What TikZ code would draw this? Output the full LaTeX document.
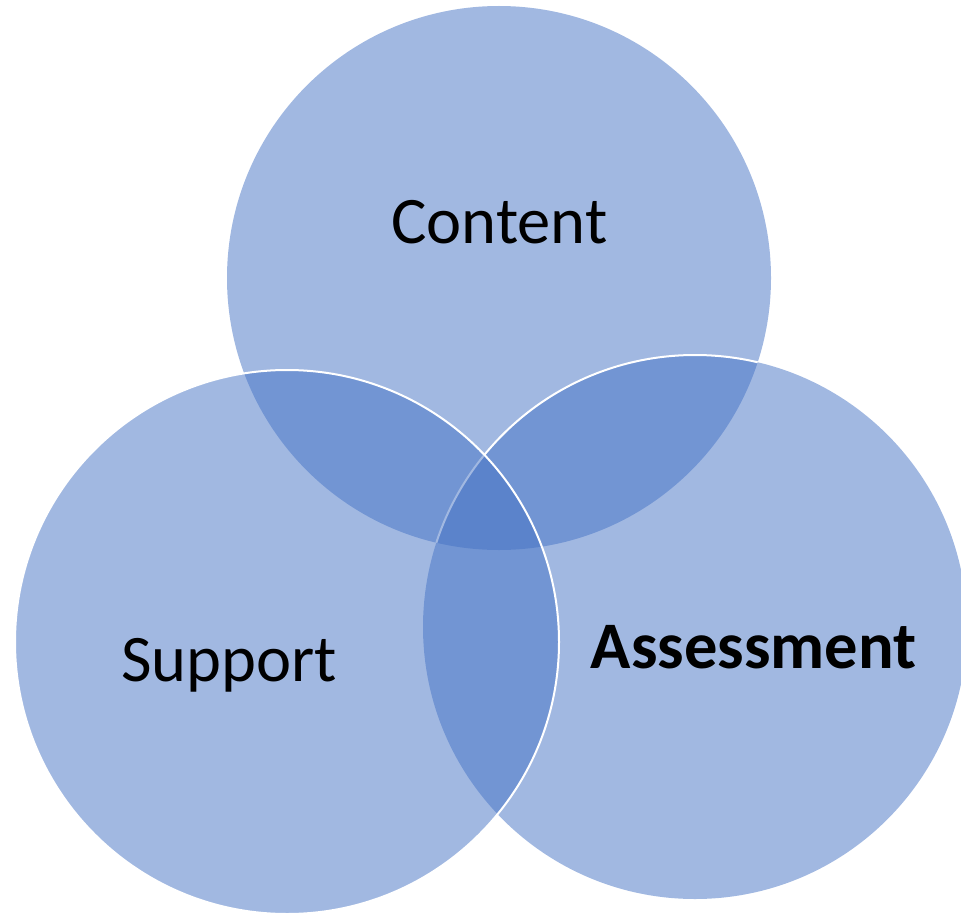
\documentclass[tikz,border=0pt]{standalone}
\usepackage{fontspec}
\setmainfont{Carlito}
\definecolor{venn}{HTML}{4472C4}
\tikzset{
  disc/.style={fill=venn, fill opacity=0.5, draw=none},
  rim/.style={draw=white, line width=2pt},
  lbl/.style={font=\fontsize{66.5}{80}\selectfont, text=black, inner sep=0pt, anchor=base}
}
\begin{document}
\begin{tikzpicture}[x=1pt,y=-1pt]
\useasboundingbox (0,0) rectangle (961,915);
\coordinate (cC) at (499,278);
\coordinate (cS) at (287,642);
\coordinate (cA) at (695,627);
\path[disc] (cC) circle[radius=272pt];
\path[disc] (cA) circle[radius=272pt];
\begin{scope}
  \clip (cC) circle[radius=272pt];
  \draw[rim] (cA) circle[radius=272pt];
\end{scope}
\path[disc] (cS) circle[radius=272pt];
\draw[rim] (cS) circle[radius=272pt];
\node[lbl] (content) at (499.5,243) {Content};
\node[lbl] (support) at (229,681) {Support};
\node[lbl, font=\fontsize{66.5}{80}\selectfont\bfseries] (assessment) at (753.5,668) {Assessment};
\end{tikzpicture}
\end{document}
